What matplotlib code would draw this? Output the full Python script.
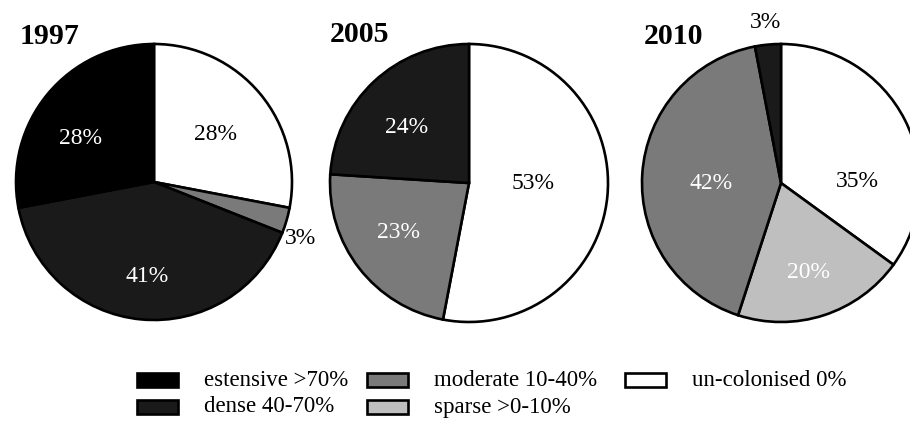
import matplotlib
matplotlib.use("Agg")
import matplotlib.pyplot as plt
import numpy as np
from matplotlib.patches import Rectangle

plt.rcParams['font.family'] = ['Liberation Serif', 'DejaVu Serif']

# ---- data ----
years = ["1997", "2005", "2010"]
categories = ["estensive >70%", "dense 40-70%", "moderate 10-40%", "sparse >0-10%", "un-colonised 0%"]
cat_colors = {"estensive >70%": "#000000", "dense 40-70%": "#1a1a1a",
              "moderate 10-40%": "#7a7a7a", "sparse >0-10%": "#bfbfbf",
              "un-colonised 0%": "#ffffff"}
# slices listed clockwise from 12 o'clock
slices_1997 = ["un-colonised 0%", "moderate 10-40%", "dense 40-70%", "estensive >70%"]
values_1997 = [28, 3, 41, 28]
slices_2005 = ["un-colonised 0%", "moderate 10-40%", "dense 40-70%"]
values_2005 = [53, 23, 24]
slices_2010 = ["un-colonised 0%", "sparse >0-10%", "moderate 10-40%", "dense 40-70%"]
values_2010 = [35, 20, 42, 3]

# ---- layout (pixels, y from bottom) ----
W, H = 910, 421
fig = plt.figure(figsize=(W / 100, H / 100), dpi=100)
ax = fig.add_axes([0, 0, 1, 1])

pies = [
    dict(slices=slices_1997, values=values_1997, center=(154, H - 182), r=138,
         title_xy=(20, H - 37),
         lab=[(0.56, -2), (1.14, -5), (0.69, 1), (0.62, 9)],
         txtc=["black", "black", "white", "white"]),
    dict(slices=slices_2005, values=values_2005, center=(469, H - 183), r=139,
         title_xy=(330, H - 35),
         lab=[(0.46, 5), (0.62, -2.5), (0.60, 5)],
         txtc=["black", "white", "white"]),
    dict(slices=slices_2010, values=values_2010, center=(781, H - 183), r=139,
         title_xy=(644, H - 37),
         lab=[(0.55, -26), (0.67, -1), (0.50, 4), (1.16, 0)],
         txtc=["black", "white", "white", "black"]),
]

for year, p in zip(years, pies):
    cols = [cat_colors[s] for s in p["slices"]]
    wedges, _ = ax.pie(p["values"], colors=cols, startangle=90, counterclock=False,
                       center=p["center"], radius=p["r"],
                       wedgeprops=dict(edgecolor="black", linewidth=1.9))
    cx, cy = p["center"]
    for w, v, (d, shift), tc in zip(wedges, p["values"], p["lab"], p["txtc"]):
        mid = np.deg2rad((w.theta1 + w.theta2) / 2 + shift)
        ax.text(cx + p["r"] * d * np.cos(mid), cy + p["r"] * d * np.sin(mid),
                f"{v}%", ha="center", va="center", fontsize=17, color=tc)
    ax.text(p["title_xy"][0], p["title_xy"][1], year, ha="left", va="center",
            fontsize=21.5, fontweight="bold", color="black")

# legend (manual layout, columns)
leg_items = [("estensive >70%", 137, H - 380), ("dense 40-70%", 137, H - 407),
             ("moderate 10-40%", 367, H - 380), ("sparse >0-10%", 367, H - 407),
             ("un-colonised 0%", 625, H - 380)]
for name, x, y in leg_items:
    ax.add_patch(Rectangle((x, y - 7), 41, 14, facecolor=cat_colors[name],
                           edgecolor="black", linewidth=1.9))
    ax.text(x + 67, y, name, ha="left", va="center", fontsize=16.5, color="black")

ax.set_xlim(0, W)
ax.set_ylim(0, H)
ax.set_aspect("equal")
ax.axis("off")

fig.savefig("out.png", dpi=100, facecolor="white")
